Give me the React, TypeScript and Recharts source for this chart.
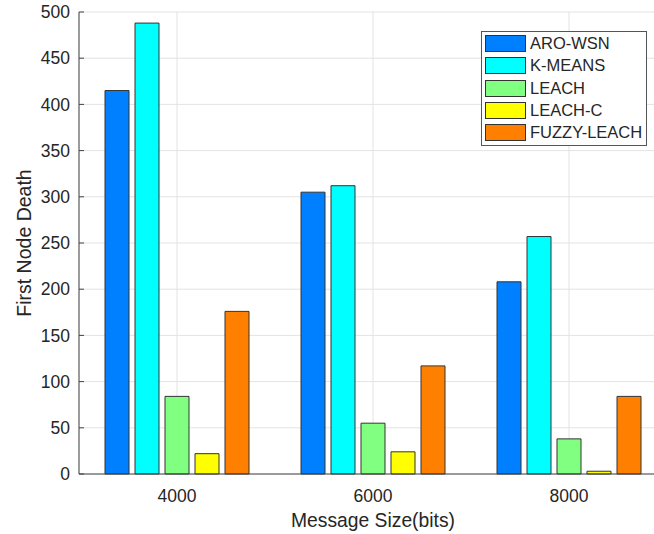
import {
  BarChart,
  Bar,
  XAxis,
  YAxis,
  CartesianGrid,
  Legend,
  Label,
} from "recharts";

const messageSizes = [4000, 6000, 8000];
const aroWsn = [415, 305, 208];
const kMeans = [488, 312, 257];
const leach = [84, 55, 38];
const leachC = [22, 24, 3];
const fuzzyLeach = [176, 117, 84];
const yTicks = [0, 50, 100, 150, 200, 250, 300, 350, 400, 450, 500];

const series = [
  { key: "aro", name: "ARO-WSN", color: "#0080FF" },
  { key: "kmeans", name: "K-MEANS", color: "#00FFFF" },
  { key: "leach", name: "LEACH", color: "#80FF80" },
  { key: "leachc", name: "LEACH-C", color: "#FFFF00" },
  { key: "fuzzy", name: "FUZZY-LEACH", color: "#FF8000" },
];

const data = messageSizes.map((size, i) => ({
  size,
  aro: aroWsn[i],
  kmeans: kMeans[i],
  leach: leach[i],
  leachc: leachC[i],
  fuzzy: fuzzyLeach[i],
}));

const FONT = "'Liberation Sans', Arial, Helvetica, sans-serif";
const TEXT = "#262626";

function renderLegend() {
  return (
    <div
      style={{
        width: 166,
        height: 115,
        boxSizing: "border-box",
        border: "1px solid #555",
        background: "#fff",
        position: "relative",
        fontFamily: FONT,
      }}
    >
      {series.map((s, i) => (
        <div
          key={s.key}
          style={{
            position: "absolute",
            left: 3,
            top: 3 + i * 22.3,
            height: 17,
            display: "flex",
            alignItems: "center",
          }}
        >
          <div
            style={{
              width: 41,
              height: 17,
              boxSizing: "border-box",
              border: "1px solid #333",
              background: s.color,
            }}
          />
          <span style={{ marginLeft: 4, fontSize: 16.5, color: TEXT, whiteSpace: "nowrap" }}>
            {s.name}
          </span>
        </div>
      ))}
    </div>
  );
}

export default function App() {
  return (
    <div
      style={{
        position: "fixed",
        left: 0,
        top: 0,
        width: 654,
        height: 534,
        overflow: "hidden",
        background: "#fff",
      }}
    >
      <BarChart
        width={680}
        height={534}
        data={data}
        margin={{ top: 12, right: 13, left: 0, bottom: 0 }}
        barSize={24}
        barGap={6}
      >
        <CartesianGrid stroke="#e3e3e3" strokeWidth={1} />
        <XAxis
          dataKey="size"
          type="number"
          domain={[3000, 9000]}
          ticks={messageSizes}
          height={60}
          tickLine={false}
          tickSize={0}
          tickMargin={16}
          axisLine={{ stroke: "#444" }}
          tick={{ fill: TEXT, fontSize: 17.5, fontFamily: FONT }}
        >
          <Label
            content={() => (
              <text
                x={373}
                y={527}
                textAnchor="middle"
                style={{ fill: TEXT, fontSize: 19.3, fontFamily: FONT }}
              >
                Message Size(bits)
              </text>
            )}
          />
        </XAxis>
        <XAxis
          xAxisId="top"
          dataKey="size"
          type="number"
          orientation="top"
          domain={[3000, 9000]}
          ticks={messageSizes}
          height={0}
          tickSize={-5}
          tickFormatter={() => ""}
          tickLine={{ stroke: "#444" }}
          axisLine={{ stroke: "#444" }}
        />
        <YAxis
          type="number"
          domain={[0, 500]}
          ticks={yTicks}
          width={79}
          tickSize={-5}
          tickMargin={14}
          tickLine={{ stroke: "#444" }}
          axisLine={{ stroke: "#444" }}
          tick={{ fill: TEXT, fontSize: 17.5, fontFamily: FONT }}
        >
          <Label
            content={() => (
              <text
                x={24}
                y={243}
                transform="rotate(-90 24 243)"
                textAnchor="middle"
                dominantBaseline="central"
                style={{ fill: TEXT, fontSize: 19.5, fontFamily: FONT }}
              >
                First Node Death
              </text>
            )}
          />
        </YAxis>
        <Legend
          layout="horizontal"
          verticalAlign="middle"
          align="center"
          content={renderLegend}
          wrapperStyle={{ left: 481, top: 31, width: 166, height: 115 }}
        />
        {series.map((s) => (
          <Bar
            key={s.key}
            dataKey={s.key}
            name={s.name}
            fill={s.color}
            stroke="#333"
            strokeWidth={1}
            isAnimationActive={false}
          />
        ))}
      </BarChart>
    </div>
  );
}
